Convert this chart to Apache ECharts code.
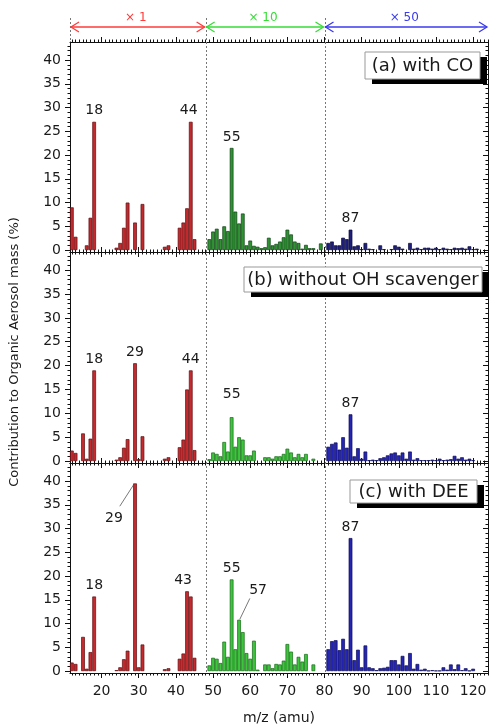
<!DOCTYPE html>
<html>
<head>
<meta charset="utf-8">
<script src="https://cdn.jsdelivr.net/npm/echarts@6/dist/echarts.min.js"></script>
<style>
  html, body { margin: 0; padding: 0; background: #fff; }
  #main { width: 490px; height: 726px; }
</style>
</head>
<body>
<div id="main"></div>
<script>
// m/z runs from 12 to 123, one value per unit mass
var mzStart = 12

// (a) with CO
var panelA = [
  9.0, 2.8, 0, 0, 1.0, 6.8, 27.0, 0, 0, 0,
  0, 0, 0.5, 1.5, 4.7, 10.0, 0, 5.8, 0, 9.7,
  0, 0, 0, 0, 0, 0.7, 1.0, 0, 0, 4.7,
  5.8, 8.8, 27.0, 2.3, 0, 0, 0, 2.3, 3.9, 4.5,
  2.3, 5.0, 4.0, 21.5, 8.1, 5.6, 7.7, 1.0, 2.0, 0.9,
  0.7, 0.4, 0.6, 2.6, 1.0, 1.3, 1.8, 2.7, 4.3, 3.3,
  1.8, 1.5, 0.3, 1.1, 0.4, 0.4, 0, 1.4, 0, 1.5,
  1.8, 1.0, 1.0, 2.6, 2.3, 4.3, 0.8, 1.0, 0.2, 1.5,
  0.3, 0.2, 0, 1.0, 0.2, 0, 0.2, 1.0, 0.7, 0.3,
  0, 1.5, 0.3, 0.5, 0.2, 0.5, 0.5, 0.3, 0.5, 0.2,
  0.5, 0.3, 0.2, 0.5, 0.4, 0.5, 0.3, 0.8, 0.2, 0.3,
  0, 0
]
// (b) without OH scavenger
var panelB = [
  2.2, 1.7, 0, 5.8, 0.5, 4.7, 19.0, 0, 0, 0,
  0, 0, 0.3, 0.8, 2.8, 4.6, 0, 20.5, 0.4, 5.2,
  0, 0, 0, 0, 0, 0.5, 0.8, 0, 0, 2.9,
  4.5, 15.0, 19.0, 2.3, 0, 0, 0, 0.4, 1.8, 1.5,
  1.0, 4.0, 2.0, 9.2, 3.0, 5.0, 4.5, 1.2, 1.2, 2.2,
  0, 0, 0.8, 0.8, 0.5, 1.0, 1.0, 1.5, 2.6, 1.8,
  0.8, 1.5, 0.8, 1.5, 0, 0.5, 0, 0, 0, 3.0,
  3.6, 3.9, 2.4, 5.0, 2.8, 9.8, 1.0, 2.7, 0.5, 2.0,
  0.2, 0.3, 0.2, 0.6, 0.8, 1.2, 1.6, 1.8, 1.2, 1.8,
  0.5, 2.0, 0.3, 0.6, 0.2, 0.2, 0.2, 0.3, 0.2, 0.5,
  0.2, 0.3, 0.4, 1.1, 0.5, 0.8, 0.3, 0.5, 0.2, 0,
  0, 0
]
// (c) with DEE
var panelC = [
  1.8, 1.5, 0, 7.2, 0.5, 4.0, 15.7, 0, 0, 0,
  0, 0, 0.2, 0.8, 2.5, 4.3, 0, 39.5, 0.8, 5.6,
  0, 0, 0, 0, 0, 0.4, 0.6, 0, 0, 2.6,
  3.7, 16.8, 15.7, 2.8, 0, 0, 0, 1.2, 2.8, 2.6,
  1.7, 6.2, 3.0, 19.3, 4.6, 10.8, 8.2, 3.8, 2.6, 6.4,
  0.3, 0, 1.4, 1.4, 0.6, 1.5, 1.4, 2.2, 5.7, 4.1,
  1.4, 3.0, 2.0, 3.6, 0, 1.4, 0, 0, 0, 4.6,
  6.3, 6.5, 4.4, 6.8, 4.6, 28.0, 2.3, 4.5, 0.8, 5.4,
  0.8, 0.6, 0.2, 0.6, 0.7, 0.9, 2.3, 2.3, 1.4, 3.2,
  1.2, 3.8, 0.5, 1.5, 0.3, 0.5, 0.1, 0.2, 0.1, 0.1,
  0.8, 0.3, 1.4, 0.4, 1.4, 0.2, 0.6, 0.1, 0.5, 0,
  0, 0
]

var panelNames = ['(a) with CO', '(b) without OH scavenger', '(c) with DEE']
var peaksA = [18, 44, 55, 87]
var peaksB = [18, 29, 44, 55, 87]
var peaksC = [18, 29, 43, 55, 57, 87]

var xTicks = [20, 30, 40, 50, 60, 70, 80, 90, 100, 110, 120]
var yTicks = [0, 5, 10, 15, 20, 25, 30, 35, 40]
// scaling regions shown above the top panel
var rangeEdges = [11.5, 48, 80, 124]
var rangeNames = ['× 1', '× 10', '× 50']

// ---- layout / style ----
var ink = '#111'
var fontFam = 'DejaVu Sans'
var xRange = [11.5, 124]
var yRange = [-0.4, 43.8]
var grids = [{ top: 42, height: 210 }, { top: 252, height: 211 }, { top: 463, height: 210 }]
var boxes = [
  { x: 365, y: 52, w: 115, h: 27 },
  { x: 244, y: 267, w: 238, h: 25 },
  { x: 350, y: 480, w: 127, h: 23 }
]
// colours: [fill, border] for x1, x10, x50 regions
var colorsTop = [['#c22a2e', '#5e0c0f'], ['#2f9334', '#0f3f12'], ['#1f1f7c', '#09093a']]
var colorsRest = [['#c42a2e', '#600d10'], ['#3cc63c', '#176617'], ['#2525b6', '#0b0b58']]
var rangeInk = ['#ff3b3b', '#36dd36', '#3a3af0']
// label nudges keyed "panel-mz"
var labelShift = {
  '0-44': { dx: -2, dy: 0 },
  '1-55': { dx: 0, dy: -12 },
  '2-29': { dx: -21, dy: 46 },
  '2-43': { dx: -4, dy: 0 },
  '2-57': { dx: 19, dy: -18 }
}
var leaderLines = [
  [[28.6, 39.2], [24.9, 34.7]],
  [[57.2, 10.9], [59.9, 15.3]]
]

function seq(a, b, step) {
  var out = []
  for (var v = a; v <= b; v += step) out.push(v)
  return out
}
var xMinor = seq(12, 124, 1)
var yMinor = seq(0, 43, 1)

var panels = [panelA, panelB, panelC]
var peaks = [peaksA, peaksB, peaksC]

var chart = echarts.init(document.getElementById('main'))

var option = {
  animation: false,
  backgroundColor: '#fff',
  grid: grids.map(function (g) {
    return { left: 70, right: 2, top: g.top, height: g.height }
  }),
  xAxis: [],
  yAxis: [],
  series: []
}

grids.forEach(function (g, i) {
  var xb = { gridIndex: i, type: 'value', min: xRange[0], max: xRange[1], splitLine: { show: false } }
  var yb = { gridIndex: i, type: 'value', min: yRange[0], max: yRange[1], splitLine: { show: false } }
  var line = { show: true, onZero: false, lineStyle: { color: ink, width: 1 } }
  var noLine = { show: false, onZero: false }
  var tickStyle = { color: ink, width: 1 }

  option.xAxis.push(Object.assign({}, xb, {
    position: 'bottom',
    axisLine: line,
    axisTick: { show: true, customValues: xTicks, length: 5, lineStyle: tickStyle },
    axisLabel: {
      show: i === 2, customValues: xTicks, margin: 11,
      fontFamily: fontFam, fontSize: 14, color: '#1a1a1a'
    },
    name: i === 2 ? 'm/z (amu)' : '',
    nameLocation: 'middle',
    nameGap: 38,
    nameTextStyle: { fontFamily: fontFam, fontSize: 14, color: '#1a1a1a' }
  }))
  option.xAxis.push(Object.assign({}, xb, {
    position: 'bottom', axisLine: noLine,
    axisTick: { show: true, customValues: xMinor, length: 2.5, lineStyle: tickStyle },
    axisLabel: { show: false }
  }))
  option.xAxis.push(Object.assign({}, xb, {
    position: 'top', axisLine: line,
    axisTick: { show: true, customValues: xTicks, length: 5, lineStyle: tickStyle },
    axisLabel: { show: false }
  }))
  option.xAxis.push(Object.assign({}, xb, {
    position: 'top', axisLine: noLine,
    axisTick: { show: true, customValues: xMinor, length: 2.5, lineStyle: tickStyle },
    axisLabel: { show: false }
  }))

  option.yAxis.push(Object.assign({}, yb, {
    position: 'left', axisLine: line,
    axisTick: { show: true, customValues: yTicks, length: 5, lineStyle: tickStyle },
    axisLabel: {
      customValues: yTicks, margin: 9,
      fontFamily: fontFam, fontSize: 14, color: '#1a1a1a'
    }
  }))
  option.yAxis.push(Object.assign({}, yb, {
    position: 'left', axisLine: noLine,
    axisTick: { show: true, customValues: yMinor, length: 2.5, lineStyle: tickStyle },
    axisLabel: { show: false }
  }))
  option.yAxis.push(Object.assign({}, yb, {
    position: 'right', axisLine: line,
    axisTick: { show: true, inside: true, customValues: yTicks, length: 5, lineStyle: tickStyle },
    axisLabel: { show: false }
  }))
  option.yAxis.push(Object.assign({}, yb, {
    position: 'right', axisLine: noLine,
    axisTick: { show: true, inside: true, customValues: yMinor, length: 2.5, lineStyle: tickStyle },
    axisLabel: { show: false }
  }))

  // bars
  var vals = panels[i]
  var cols = i === 0 ? colorsTop : colorsRest
  var items = []
  var itemMz = []
  vals.forEach(function (v, k) {
    var mz = mzStart + k
    if (!(v > 0)) return
    var r = mz < rangeEdges[1] ? 0 : (mz < rangeEdges[2] ? 1 : 2)
    var item = {
      value: [mz, v],
      itemStyle: { color: cols[r][0], borderColor: cols[r][1], borderWidth: 0.7 }
    }
    if (peaks[i].indexOf(mz) >= 0) {
      item.label = { show: true, formatter: String(mz) }
    }
    items.push(item)
    itemMz.push(mz)
  })
  option.series.push({
    type: 'bar',
    xAxisIndex: i * 4,
    yAxisIndex: i * 4,
    barWidth: 3.7,
    data: items,
    label: {
      show: false, position: 'top', distance: 4,
      fontFamily: fontFam, fontSize: 14, color: '#1a1a1a'
    },
    labelLayout: function (params) {
      var s = labelShift[i + '-' + itemMz[params.dataIndex]]
      return s ? { dx: s.dx, dy: s.dy } : {}
    }
  })
})

leaderLines.forEach(function (seg) {
  option.series.push({
    type: 'line',
    xAxisIndex: 8,
    yAxisIndex: 8,
    data: seg,
    symbol: 'none',
    silent: true,
    z: 5,
    lineStyle: { color: '#555', width: 0.8 }
  })
})

chart.setOption(option)

// overlay: scaling arrows, region dividers, panel name boxes, y title
function px(v) {
  return chart.convertToPixel({ xAxisIndex: 0 }, v)
}
var graphic = []
var arrowY = 27
var topY = 18
var bottomY = grids[2].top + grids[2].height

for (var r = 0; r < 3; r++) {
  var x0 = px(rangeEdges[r])
  var x1 = Math.min(px(rangeEdges[r + 1]), 488)
  var c = rangeInk[r]
  graphic.push({
    type: 'line', shape: { x1: x0 + 1, y1: arrowY, x2: x1 - 1, y2: arrowY },
    style: { stroke: c, lineWidth: 1.3 }, z: 10
  })
  graphic.push({
    type: 'polyline', shape: { points: [[x0 + 9, arrowY - 5], [x0 + 1, arrowY], [x0 + 9, arrowY + 5]] },
    style: { stroke: c, lineWidth: 1.3, fill: null }, z: 10
  })
  graphic.push({
    type: 'polyline', shape: { points: [[x1 - 9, arrowY - 5], [x1 - 1, arrowY], [x1 - 9, arrowY + 5]] },
    style: { stroke: c, lineWidth: 1.3, fill: null }, z: 10
  })
  graphic.push({
    type: 'text', x: (x0 + x1) / 2 - 2, y: 18,
    style: {
      text: rangeNames[r], fill: c, font: '12px "DejaVu Sans"',
      textAlign: 'center', textVerticalAlign: 'middle'
    }, z: 10
  })
}

// region dividers
[rangeEdges[1], rangeEdges[2]].forEach(function (v) {
  var x = Math.round(px(v)) + 0.5
  graphic.push({
    type: 'line', shape: { x1: x, y1: topY, x2: x, y2: bottomY },
    style: { stroke: '#777', lineWidth: 1, lineDash: [2, 2] }, z: 1, silent: true
  })
})
var xl = Math.round(px(rangeEdges[0])) + 0.5
graphic.push({
  type: 'line', shape: { x1: xl, y1: topY, x2: xl, y2: grids[0].top },
  style: { stroke: '#777', lineWidth: 1, lineDash: [2, 2] }, z: 1, silent: true
})

// panel name boxes with drop shadow
boxes.forEach(function (b, i) {
  graphic.push({
    type: 'rect', shape: { x: b.x + 7, y: b.y + 5, width: b.w, height: b.h },
    style: { fill: '#000' }, z: 20
  })
  graphic.push({
    type: 'rect', shape: { x: b.x, y: b.y, width: b.w, height: b.h },
    style: { fill: '#fff', stroke: '#999', lineWidth: 1 }, z: 21
  })
  graphic.push({
    type: 'text', x: b.x + b.w / 2, y: b.y + b.h / 2 + 1,
    style: {
      text: panelNames[i], fill: '#1a1a1a', font: '18px "DejaVu Sans"',
      textAlign: 'center', textVerticalAlign: 'middle'
    }, z: 22
  })
})

graphic.push({
  type: 'text', x: 15, y: 352, rotation: Math.PI / 2,
  style: {
    text: 'Contribution to Organic Aerosol mass (%)', fill: '#1a1a1a',
    font: '13px "DejaVu Sans"', textAlign: 'center', textVerticalAlign: 'middle'
  }
})

chart.setOption({ graphic: graphic })
</script>
</body>
</html>
